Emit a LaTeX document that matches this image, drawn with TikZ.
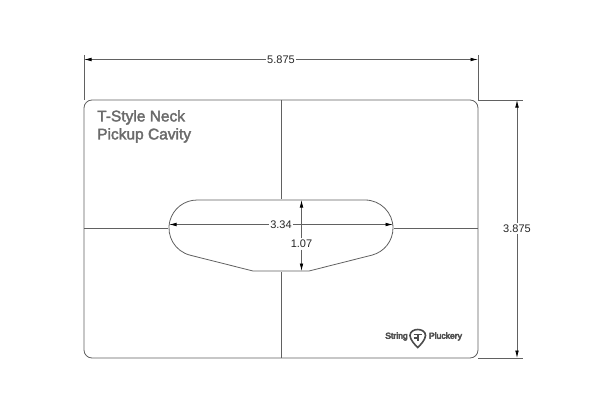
\documentclass[tikz,border=0pt]{standalone}
\usepackage{fontspec}
\setmainfont{Liberation Sans}
\newfontfamily\heavyfont[FakeBold=2.2]{Liberation Sans}
\newfontfamily\logofont[FakeBold=6]{Liberation Sans}
\usetikzlibrary{arrows.meta,positioning}
\definecolor{linegray}{gray}{0.38}
\tikzset{
  outline/.style={draw=linegray,line width=0.8pt},
  dimline/.style={draw=linegray,line width=0.7pt},
  dimhead/.style={dimline,-{Latex[length=7.5pt,width=3.6pt,black]}},
  dimlabel/.style={inner sep=1.5pt,fill=white,font=\fontsize{11}{13}\selectfont,text=black!85},
  titlelabel/.style={inner sep=0pt,align=left,anchor=north west,font=\heavyfont\fontsize{15.5}{18}\selectfont,text=black!58},
  logolabel/.style={inner sep=0pt,font=\logofont\fontsize{8.6}{9}\selectfont,text=black!68}
}
\begin{document}
\begin{tikzpicture}[x=1pt,y=-1pt]
\useasboundingbox (0,0) rectangle (600,420);

% body of the cavity plate
\draw[outline] (92,100) -- (470,100) arc (-90:0:8) -- (478,350) arc (0:90:8) -- (92,358) arc (90:180:8) -- (84,108) arc (180:270:8) -- cycle;

% pickup opening
\draw[outline] (197,200) -- (365,200) arc (-90:76:28) -- (309,271) -- (253,271) -- (190.2,255.2) arc (104:270:28) -- cycle;

% centre lines
\coordinate (ctop) at (281,100);
\coordinate (cupper) at (281,199);
\coordinate (clower) at (281,272);
\coordinate (cbottom) at (281,358);
\coordinate (cleft) at (84,228.5);
\coordinate (cinner) at (168,228.5);
\coordinate (cinnerr) at (394,228.5);
\coordinate (cright) at (478,228.5);
\foreach \a/\b in {ctop/cupper,clower/cbottom,cleft/cinner,cinnerr/cright} {
\draw[dimline] (\a) -- (\b);};

% overall width
\coordinate (wl) at (84,59.5);
\coordinate (wr) at (478,59.5);
\node (lw) at (281,59.5) [dimlabel] {5.875};
\draw[dimhead] (lw) -- (wl);
\draw[dimhead] (lw) -- (wr);
\draw[dimline] (84,55) -- (84,100);
\draw[dimline] (478,55) -- (478,100);

% overall height
\coordinate (ht) at (517,100);
\coordinate (hb) at (517,358);
\node (lh) at (517,228.5) [dimlabel] {3.875};
\draw[dimhead] (lh) -- (ht);
\draw[dimhead] (lh) -- (hb);
\draw[dimline] (478,100) -- (522.5,100);
\draw[dimline] (478,358) -- (522.5,358);

% opening width
\coordinate (ol) at (169,224.5);
\coordinate (or) at (393,224.5);
\node (lo) at (281,224.5) [dimlabel] {3.34};
\draw[dimhead] (lo) -- (ol);
\draw[dimhead] (lo) -- (or);

% opening height
\coordinate (ot) at (301.5,200);
\coordinate (ob) at (301.5,271);
\node (lv) at (301.5,244) [dimlabel] {1.07};
\draw[dimhead] (lv) -- (ot);
\draw[dimhead] (lv) -- (ob);

\node (title) at (97,110) [titlelabel] {T-Style Neck\\Pickup Cavity};

% logo
\node (string) at (396.5,336.5) [logolabel] {String};
\node (pluckery) at (445.5,336.5) [logolabel] {Pluckery};
\draw[line width=1.6pt,draw=black!70] (410,335.5) .. controls (410,327.5) and (425.5,327.5) .. (425.5,335.5) .. controls (425.5,339.5) and (420.5,345) .. (417.7,347.5) .. controls (415,345) and (410,339.5) .. (410,335.5) -- cycle;
\draw[line width=1.1pt,draw=black!70] (413.5,334.5) -- (422,334.5) (418,334.5) -- (418,341) (413.5,338) -- (418,338);
\end{tikzpicture}
\end{document}
